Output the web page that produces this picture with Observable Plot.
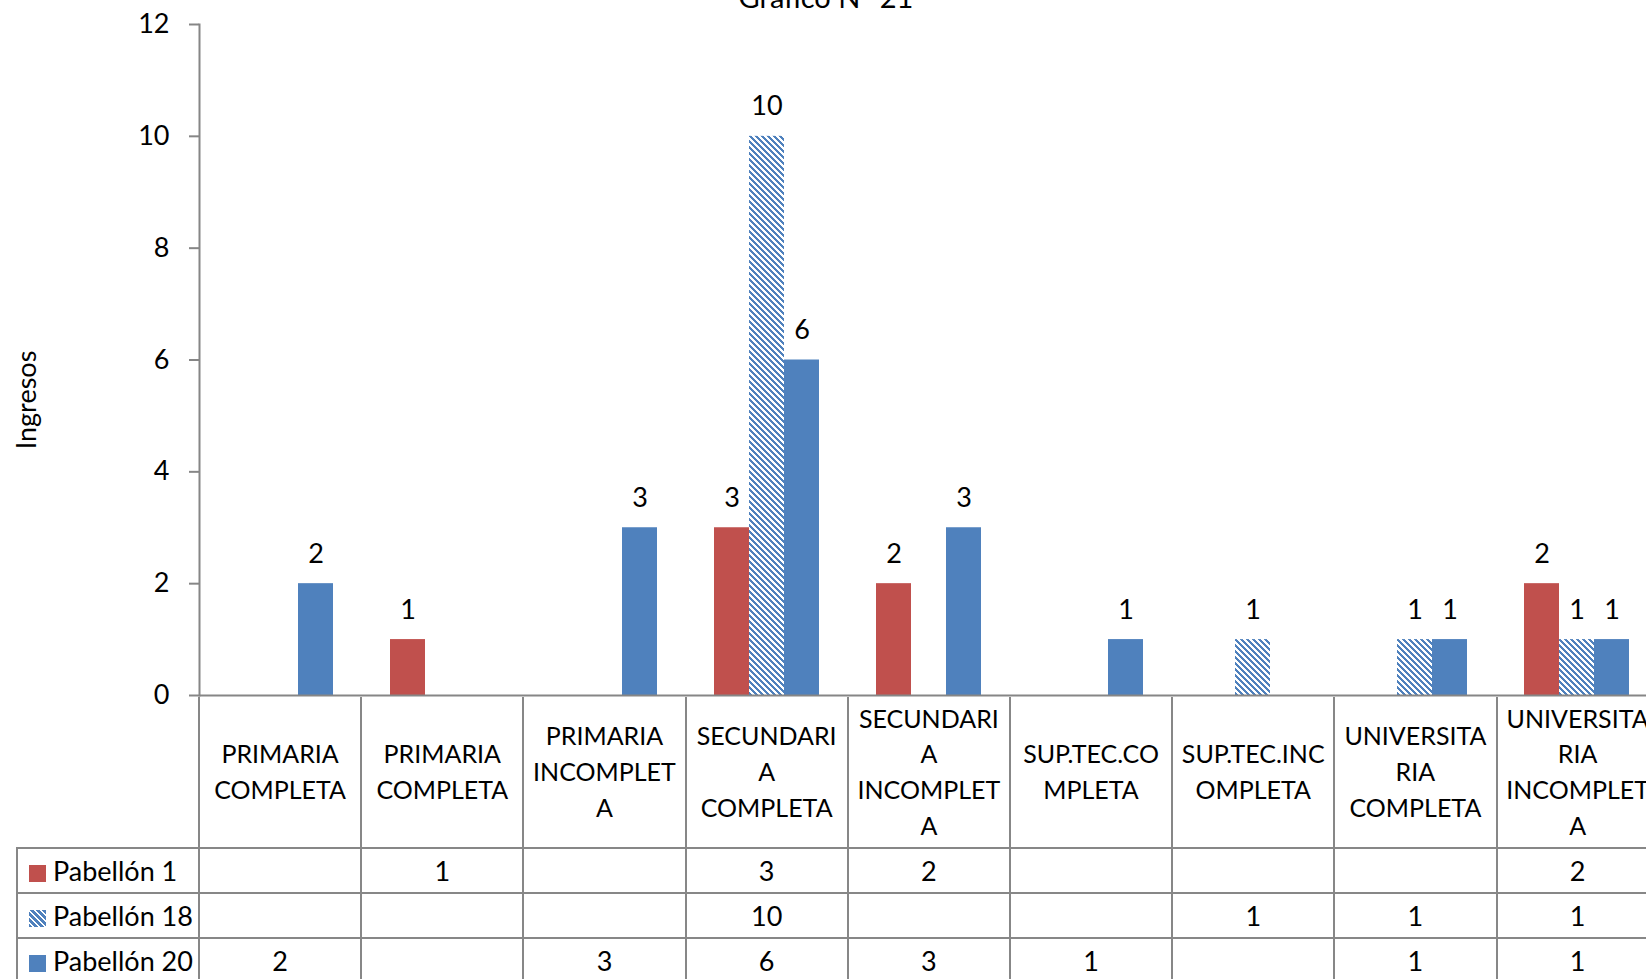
<!DOCTYPE html>
<html>
<head>
<meta charset="utf-8">
<script src="https://cdn.jsdelivr.net/npm/d3@7"></script>
<script src="https://cdn.jsdelivr.net/npm/@observablehq/plot@0.6"></script>
<style>
  html, body { margin: 0; padding: 0; background: #fff; overflow: hidden; width: 1646px; height: 979px; }
  body { position: relative; font-family: Lato, "Open Sans", sans-serif; color: #000; }
  #title { position: absolute; top: -18px; left: 826px; transform: translateX(-50%); font-size: 29px; line-height: 30px; white-space: nowrap; }
  #ylabel { position: absolute; left: 25px; top: 400px; transform: translate(-50%, -50%) rotate(-90deg); font-size: 27px; white-space: nowrap; }
  #chart { position: absolute; left: 0; top: 0; width: 1660px; }
  #chart svg { max-width: none; }
  #tbl { position: absolute; left: 16px; top: 697px; border-collapse: collapse; table-layout: fixed; font-size: 27px; }
  #tbl td { border: 2px solid #878787; padding: 0; text-align: center; vertical-align: middle; overflow: hidden; }
  #tbl tr.head td { height: 150px; border-top: none; white-space: pre-line; line-height: 35.7px; font-size: 25px; }
  #tbl tr.head td.blank { border-left: none; }
  #tbl tr.row td { height: 43px; line-height: 43px; }
  #tbl td.name { text-align: left; padding-left: 11px; white-space: nowrap; }
  .sw { display: inline-block; width: 17px; height: 17px; margin-right: 7px; vertical-align: -1px; }
</style>
</head>
<body>
<div id="title">Gráfico N° 21</div>
<div id="chart"></div>
<script>
// ---- data ----
const categories = ["PRIMARIA COMPLETA", "PRIMARIA COMPLETA", "PRIMARIA INCOMPLETA", "SECUNDARIA COMPLETA",
  "SECUNDARIA INCOMPLETA", "SUP.TEC.COMPLETA", "SUP.TEC.INCOMPLETA", "UNIVERSITARIA COMPLETA", "UNIVERSITARIA INCOMPLETA"];
const categoryLabels = ["PRIMARIA\nCOMPLETA", "PRIMARIA\nCOMPLETA", "PRIMARIA\nINCOMPLET\nA", "SECUNDARI\nA\nCOMPLETA",
  "SECUNDARI\nA\nINCOMPLET\nA", "SUP.TEC.CO\nMPLETA", "SUP.TEC.INC\nOMPLETA", "UNIVERSITA\nRIA\nCOMPLETA", "UNIVERSITA\nRIA\nINCOMPLET\nA"];
const series = ["Pabellón 1", "Pabellón 18", "Pabellón 20"];
const pabellon1  = [null, 1, null, 3, 2, null, null, null, 2];
const pabellon18 = [null, null, null, 10, null, null, 1, 1, 1];
const pabellon20 = [2, null, 3, 6, 3, 1, null, 1, 1];
const yTicks = [0, 2, 4, 6, 8, 10, 12];
const yLabel = "Ingresos";
const seriesColors = ["#C0504D", "url(#hatch18)", "#4F81BD"];

const seriesValues = [pabellon1, pabellon18, pabellon20];
const data = [];
series.forEach((s, si) => seriesValues[si].forEach((v, ci) => {
  if (v != null) data.push({cat: ci, series: s, value: v});
}));

const axisGrey = "#868686";

const chart = Plot.plot({
  width: 1660,
  height: 697,
  marginTop: 24,
  marginBottom: 2,
  marginLeft: 198,
  marginRight: 2,
  style: {fontFamily: "Lato, 'Open Sans', sans-serif", fontSize: "27px", color: "#000", background: "transparent", overflow: "visible", maxWidth: "none"},
  fx: {domain: d3.range(categories.length), axis: null, padding: 0},
  x: {domain: series, axis: null, paddingInner: 0, paddingOuter: 0.77},
  y: {domain: [0, 12], axis: null},
  color: {domain: series, range: seriesColors},
  marks: [
    Plot.barY(data, {fx: "cat", x: "series", y: "value", fill: "series"}),
    Plot.ruleY([0], {stroke: axisGrey, strokeWidth: 2}),
    Plot.frame({anchor: "left", facetAnchor: "left", stroke: axisGrey, strokeWidth: 2}),
    Plot.axisY({ticks: yTicks, tickSize: 10, tickPadding: 20, stroke: axisGrey, strokeWidth: 2,
      fill: "#000", fontSize: 27, label: null, tickFormat: d => String(d)}),
    Plot.text(data, {fx: "cat", x: "series", y: "value", text: d => String(d.value),
      lineAnchor: "bottom", dy: -21, fill: "#000", fontSize: 27})
  ]
});

// pixel hatch ("wide downward diagonal") for Pabellón 18
let hatchPath = "";
for (let r = 0; r < 6; r++) for (let k = 0; k < 3; k++) hatchPath += `M${(r + k) % 6},${r}h1v1h-1z`;
chart.insertAdjacentHTML("afterbegin",
  '<defs><pattern id="hatch18" patternUnits="userSpaceOnUse" width="6" height="6">' +
  '<rect width="6" height="6" fill="#fff"/>' +
  `<path d="${hatchPath}" fill="#4F81BD" shape-rendering="crispEdges"/></pattern></defs>`);
document.getElementById("chart").appendChild(chart);

const yl = document.createElement("div");
yl.id = "ylabel";
yl.textContent = yLabel;
document.body.appendChild(yl);

// ---- data table below the chart ----
const swatchCss = [
  "background:#C0504D",
  "background:repeating-linear-gradient(45deg,#4F81BD 0 2.2px,#fff 2.2px 4.24px)",
  "background:#4F81BD"
];
const tbl = document.createElement("table");
tbl.id = "tbl";
const colgroup = document.createElement("colgroup");
const c0 = document.createElement("col"); c0.style.width = "182px"; colgroup.appendChild(c0);
categories.forEach(() => { const c = document.createElement("col"); c.style.width = "162.2px"; colgroup.appendChild(c); });
tbl.appendChild(colgroup);
tbl.style.width = (182 + 162.2 * categories.length) + "px";

const head = document.createElement("tr");
head.className = "head";
const blank = document.createElement("td"); blank.className = "blank"; head.appendChild(blank);
categoryLabels.forEach(l => { const td = document.createElement("td"); td.textContent = l; head.appendChild(td); });
tbl.appendChild(head);

series.forEach((s, si) => {
  const tr = document.createElement("tr");
  tr.className = "row";
  const name = document.createElement("td");
  name.className = "name";
  const sw = document.createElement("span");
  sw.className = "sw";
  sw.setAttribute("style", swatchCss[si]);
  name.appendChild(sw);
  name.appendChild(document.createTextNode(s));
  tr.appendChild(name);
  seriesValues[si].forEach(v => {
    const td = document.createElement("td");
    td.textContent = v == null ? "" : String(v);
    tr.appendChild(td);
  });
  tbl.appendChild(tr);
});
document.body.appendChild(tbl);
</script>
</body>
</html>
